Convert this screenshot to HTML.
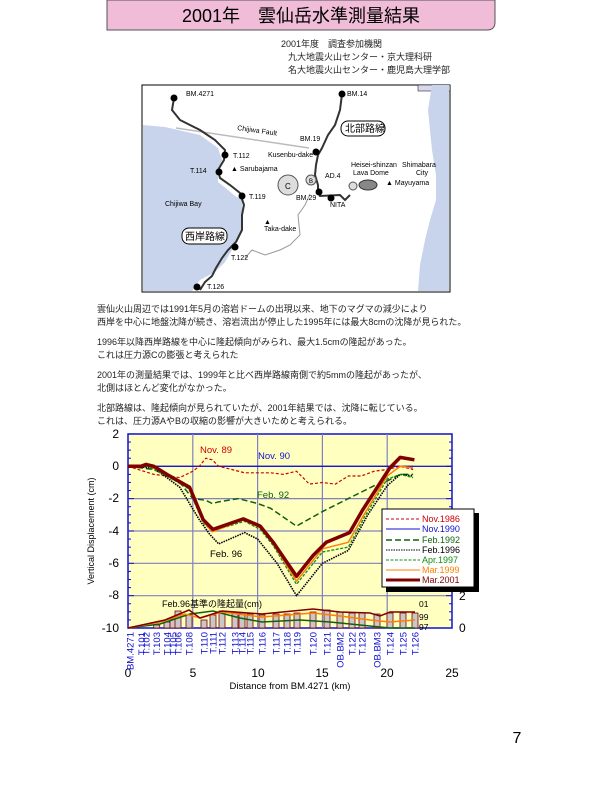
<!DOCTYPE html>
<html><head><meta charset="utf-8"><style>
body{margin:0;background:#fff;width:612px;height:792px;overflow:hidden}
svg{display:block}
text{font-family:"Liberation Sans","Noto Sans CJK JP",sans-serif}
.jp{font-size:9px;fill:#222}
.st{font-size:9.5px;fill:#1010d0}
.ax{font-size:12px;fill:#000}
</style></head><body>
<svg id="s" width="612" height="792" viewBox="0 0 612 792" xmlns="http://www.w3.org/2000/svg">
<path d="M107,0 H495 V22 Q495,30 487,30 H107 Z" fill="#f0bcd8" stroke="#555" stroke-width="1"/>
<text x="301" y="22" font-size="18" text-anchor="middle" fill="#000">2001年　雲仙岳水準測量結果</text>
<text x="281" y="47" class="jp">2001年度　調査参加機関</text>
<text x="288" y="60" class="jp">九大地震火山センター・京大理科研</text>
<text x="288" y="73" class="jp">名大地震火山センター・鹿児島大理学部</text>
<rect x="142" y="85" width="308" height="207" fill="#fff" stroke="#000"/>
<rect x="418" y="85" width="32" height="6" fill="#d8d8f0" stroke="#000" stroke-width="0.5"/>
<path d="M143,125 L165,127 L200,135 L218,148 L222,160 L218,175 L218,182 L228,190 L235,196 L242,200 L243,225 L238,240 L232,250 L225,262 L215,272 L200,280 L192,291 L143,291 Z" fill="#c8d4ec"/>
<path d="M432,85 L428,110 L430,130 L432,150 L436,175 L436,200 L430,220 L425,240 L420,265 L418,291 L449,291 L449,85 Z" fill="#c8d4ec"/>
<line x1="176" y1="128" x2="309" y2="148" stroke="#bbb" stroke-width="1.5"/>
<path d="M174,98 L172,110 L180,120 L200,130 L215,140 L225,150 L224,160 L218,170 L220,178 L230,185 L240,193 L244,205 L242,215 L242,230 L236,242 L228,250 L222,258 L216,268 L212,276 L205,282 L200,290" fill="none" stroke="#333" stroke-width="2"/>
<path d="M342,94 L340,110 L335,125 L328,135 L322,148 L318,155 L316,165 L315,175 L318,185 L318,192 L320,196 L340,195 L345,200 L350,195" fill="none" stroke="#333" stroke-width="2"/>
<path d="M310,194 L305,205 L298,215 L300,235 L290,245 L280,250 L265,255 L252,250 L245,258" fill="none" stroke="#999" stroke-width="1"/>
<g fill="#000">
<circle cx="174" cy="98" r="3.5"/><circle cx="342" cy="94" r="3.5"/><circle cx="225" cy="155" r="3.5"/><circle cx="219" cy="172" r="3.5"/><circle cx="242" cy="196" r="3.5"/><circle cx="235" cy="247" r="3.5"/><circle cx="197" cy="287" r="3.5"/><circle cx="316" cy="152" r="3.5"/><circle cx="319" cy="192" r="3.5"/><circle cx="331" cy="198" r="3.5"/>
</g>
<circle cx="288" cy="185" r="10" fill="#ddd" stroke="#555"/><text x="285" y="189" font-size="8">C</text>
<circle cx="311" cy="180" r="5" fill="#ddd" stroke="#555"/><text x="309" y="183" font-size="6">B</text>
<circle cx="353" cy="186" r="4" fill="#ddd" stroke="#555"/>
<ellipse cx="368" cy="185" rx="9" ry="5" fill="#888" stroke="#333"/>
<g font-size="7" fill="#000">
<text x="186" y="96">BM.4271</text><text x="347" y="96">BM.14</text><text x="237" y="130" transform="rotate(8 237 130)">Chijiwa Fault</text>
<text x="300" y="141">BM.19</text><text x="268" y="157">Kusenbu-dake</text><text x="233" y="158">T.112</text><text x="190" y="173">T.114</text>
<text x="231" y="171">▲ Sarubajama</text><text x="249" y="199">T.119</text><text x="165" y="206">Chijiwa Bay</text>
<text x="296" y="200">BM.29</text><text x="325" y="178">AD.4</text><text x="330" y="207">NITA</text><text x="351" y="167">Heisei-shinzan</text><text x="353" y="175">Lava Dome</text>
<text x="402" y="167">Shimabara</text><text x="416" y="175">City</text><text x="386" y="185">▲ Mayuyama</text>
<text x="264" y="224">▲</text><text x="264" y="231">Taka-dake</text><text x="231" y="260">T.122</text><text x="207" y="289">T.126</text>
</g>
<rect x="341" y="121" width="44" height="15" rx="7" fill="#fff" stroke="#000"/><text x="345" y="132" font-size="10">北部路線</text>
<rect x="182" y="228" width="45" height="16" rx="7" fill="#fff" stroke="#000"/><text x="185" y="240" font-size="10">西岸路線</text>
<text x="97" y="312" class="jp">雲仙火山周辺では1991年5月の溶岩ドームの出現以来、地下のマグマの減少により</text>
<text x="97" y="325" class="jp">西岸を中心に地盤沈降が続き、溶岩流出が停止した1995年には最大8cmの沈降が見られた。</text>
<text x="97" y="345" class="jp">1996年以降西岸路線を中心に隆起傾向がみられ、最大1.5cmの隆起があった。</text>
<text x="97" y="358" class="jp">これは圧力源Cの膨張と考えられた</text>
<text x="97" y="378" class="jp">2001年の測量結果では、1999年と比べ西岸路線南側で約5mmの隆起があったが、</text>
<text x="97" y="391" class="jp">北側はほとんど変化がなかった。</text>
<text x="97" y="411" class="jp">北部路線は、隆起傾向が見られていたが、2001年結果では、沈降に転じている。</text>
<text x="97" y="424" class="jp">これは、圧力源AやBの収縮の影響が大きいためと考えられる。</text>
<rect x="128" y="434" width="324" height="194" fill="#ffffc0" stroke="#1010d0" stroke-width="1.5"/>
<g stroke="#8080c0" stroke-width="1.2">
<line x1="128" y1="498.6" x2="452" y2="498.6"/><line x1="128" y1="531" x2="452" y2="531"/><line x1="128" y1="563.3" x2="452" y2="563.3"/><line x1="128" y1="595.7" x2="452" y2="595.7"/><line x1="128" y1="466.3" x2="452" y2="466.3"/>
<line x1="192.8" y1="434" x2="192.8" y2="628"/><line x1="257.6" y1="434" x2="257.6" y2="628"/><line x1="322.4" y1="434" x2="322.4" y2="628"/><line x1="387.2" y1="434" x2="387.2" y2="628"/>
</g>
<line x1="128" y1="466.3" x2="452" y2="466.3" stroke="#1010d0" stroke-width="1.2"/>
<g id="ticks" stroke="#1010d0" stroke-width="1"></g>
<g id="bars"></g>
<g id="series"></g>
<g class="ax" text-anchor="end">
<text x="119" y="438">2</text><text x="119" y="470">0</text><text x="119" y="502">-2</text><text x="119" y="535">-4</text><text x="119" y="567">-6</text><text x="119" y="599">-8</text><text x="119" y="632">-10</text>
</g>
<g class="ax"><text x="459" y="600">2</text><text x="459" y="632">0</text></g>
<text x="94" y="531" font-size="9" text-anchor="middle" transform="rotate(-90 94 531)">Vertical Displacement (cm)</text>
<g class="ax" text-anchor="middle">
<text x="128" y="677">0</text><text x="193" y="677">5</text><text x="258" y="677">10</text><text x="322" y="677">15</text><text x="387" y="677">20</text><text x="452" y="677">25</text>
</g>
<text x="290" y="689" font-size="9.5" text-anchor="middle">Distance from BM.4271 (km)</text>
<g id="stl" class="st" text-anchor="end"></g>
<text x="200" y="453" font-size="9.5" fill="#d00000">Nov. 89</text>
<text x="258" y="459" font-size="9.5" fill="#1010d0">Nov. 90</text>
<text x="257" y="498" font-size="9.5" fill="#106010">Feb. 92</text>
<text x="210" y="557" font-size="9.5" fill="#000">Feb. 96</text>
<text x="162" y="607" font-size="9" fill="#000">Feb.96基準の隆起量(cm)</text>
<g font-size="8.5" fill="#000"><text x="419" y="607">01</text><text x="419" y="620">99</text><text x="419" y="630">97</text></g>
<rect x="386" y="513" width="93" height="79" fill="#000"/>
<rect x="382" y="509" width="92" height="78" fill="#fff" stroke="#000"/>
<g font-size="9">
<line x1="386" y1="519" x2="420" y2="519" stroke="#d00000" stroke-dasharray="3,2"/><text x="422" y="522" fill="#d00000">Nov.1986</text>
<line x1="386" y1="529" x2="420" y2="529" stroke="#1010d0"/><text x="422" y="532" fill="#1010d0">Nov.1990</text>
<line x1="386" y1="540" x2="420" y2="540" stroke="#106010" stroke-width="1.5" stroke-dasharray="6,3"/><text x="422" y="543" fill="#106010">Feb.1992</text>
<line x1="386" y1="550" x2="420" y2="550" stroke="#000" stroke-dasharray="1.5,1"/><text x="422" y="553" fill="#000">Feb.1996</text>
<line x1="386" y1="560" x2="420" y2="560" stroke="#109010" stroke-dasharray="3,1.5"/><text x="422" y="563" fill="#109010">Apr.1997</text>
<line x1="386" y1="570" x2="420" y2="570" stroke="#ff8000"/><text x="422" y="573" fill="#ff8000">Mar.1999</text>
<line x1="386" y1="580" x2="420" y2="580" stroke="#800000" stroke-width="3"/><text x="422" y="583" fill="#800000">Mar.2001</text>
</g>
<text x="517" y="743" font-size="16" text-anchor="middle">7</text>
</svg>
<script>
var NS="http://www.w3.org/2000/svg";
function X(k){return 128+k*12.96}function Y(v){return 466.3-v*16.17}
function pl(id,d,col,w,dash){var p=document.createElementNS(NS,"polyline");p.setAttribute("points",d.map(function(a){return X(a[0]).toFixed(1)+","+Y(a[1]).toFixed(1)}).join(" "));p.setAttribute("fill","none");p.setAttribute("stroke",col);p.setAttribute("stroke-width",w);if(dash)p.setAttribute("stroke-dasharray",dash);p.setAttribute("stroke-linejoin","round");document.getElementById(id).appendChild(p)}
pl("series",[[0,0],[22,0]],"#1010d0",1);
pl("series",[[0,0],[2,-0.5],[4,-0.7],[5,-0.3],[5.5,0],[6,0.5],[6.5,0.4],[7,0],[8,-0.2],[9,-0.4],[10,-0.4],[11,-0.4],[12,-0.5],[13,-0.3],[14,-1.1],[15,-1],[16,-1.1],[17,-0.6],[18,-0.6],[19,-0.3],[20,-0.2],[21,0],[22,-0.2]],"#d00000",1.2,"3,2");
pl("series",[[0,0],[2,-0.2],[4,-1],[5,-2],[6,-2.1],[6.5,-2.3],[7,-2.2],[8.5,-2],[10,-2.3],[11,-2.6],[13,-3.7],[15,-2.8],[17,-2],[19,-1.2],[20,-0.9],[21,-0.5],[22,-0.5]],"#106010",1.5,"6,3");
pl("series",[[0,0],[2,-0.1],[4,-1.3],[4.6,-2.1],[5.5,-3.3],[6.3,-4.2],[7,-4.8],[9,-4.1],[10,-4.5],[11.5,-6],[13,-8],[15,-6],[17,-5.2],[18.5,-3],[20,-1.2],[21,-0.5],[22,-0.6]],"#000",1.6,"1.5,1");
pl("series",[[0,0],[1.5,0],[3,-0.6],[4.7,-1.4],[5.8,-3.5],[6.5,-4],[9,-3.4],[10.2,-3.9],[11.2,-4.9],[13,-7.3],[15,-5.3],[17,-5],[18.2,-3.2],[20,-0.8],[21,-0.5],[22,-0.7]],"#109010",1.3,"3,1.5");
pl("series",[[0,0],[1.5,0.1],[3,-0.5],[4.7,-1.3],[5.8,-3.4],[6.5,-4.05],[8.9,-3.3],[10.2,-3.8],[11.2,-4.8],[13,-7.1],[15,-5.1],[17,-4.7],[18.2,-3],[20,-0.6],[21,0],[22,-0.1]],"#ff8000",1.5);
pl("series",[[0,0],[1,0],[1.4,0.12],[2,0],[3,-0.5],[4.75,-1.3],[5.8,-3.3],[6.55,-3.9],[8.9,-3.25],[10.2,-3.7],[11.2,-4.7],[13,-6.8],[14.3,-5.5],[15.3,-4.7],[17.1,-4.1],[18.1,-2.7],[20.2,-0.1],[21,0.55],[22.1,0.4]],"#800000",3.5);
var st=[["BM.4271",130],["T.101",141.7],["T.102",146],["T.103",156.7],["T.104",167],["T.105",173],["T.106",178],["T.108",189],["T.110",204],["T.111",213],["T.112",222],["T.113",235],["T.114",242],["T.115",250],["T.116",262],["T.117",276],["T.118",287],["T.119",297],["T.120",313],["T.121",327],["OB.BM2",340],["T.122",352],["T.123",362],["OB.BM3",377],["T.124",390],["T.125",403],["T.126",415]];
var H=[0,0,0,3,6,9,17,13,8,13,17,15,15,14,13,14,14,15,16,18,16,15,15,14,15,15,15];
var B=document.getElementById("bars");
st.forEach(function(s,i){var h=H[i];if(!h)return;var r=document.createElementNS(NS,"rect");r.setAttribute("x",s[1]-3);r.setAttribute("y",628-h);r.setAttribute("width",6);r.setAttribute("height",h);r.setAttribute("fill","#c8c8c8");r.setAttribute("stroke","#800000");r.setAttribute("stroke-width","0.8");B.appendChild(r)});
function bl(pts,c,w){var p=document.createElementNS(NS,"polyline");p.setAttribute("points",pts.map(function(a){return a.join(",")}).join(" "));p.setAttribute("fill","none");p.setAttribute("stroke",c);p.setAttribute("stroke-width",w);B.appendChild(p)}
bl([[128,628],[160,624],[190,614],[213,611],[240,618],[262,622],[300,620],[330,622],[360,625],[390,628],[415,628]],"#106010",1.5);
bl([[128,628],[160,622],[185,614],[200,618],[222,612],[262,617],[313,613],[340,616],[370,620],[390,622],[415,620]],"#ff8000",1.5);
bl([[128,628],[165,620],[189,610],[200,618],[222,611],[262,614],[313,609],[340,612],[370,613],[380,616],[390,612],[415,612]],"#800000",1.5);
var L=document.getElementById("stl");
st.forEach(function(s){var t=document.createElementNS(NS,"text");t.setAttribute("transform","translate("+(s[1]+3.5)+",632) rotate(-90)");t.textContent=s[0];L.appendChild(t)});
var T=document.getElementById("ticks");
for(var v=2;v>=-10;v-=0.5){var l=document.createElementNS(NS,"line");l.setAttribute("x1",128);l.setAttribute("x2",v%2==0?134:131);l.setAttribute("y1",Y(v));l.setAttribute("y2",Y(v));T.appendChild(l);var r=l.cloneNode();r.setAttribute("x1",452);r.setAttribute("x2",v%2==0?446:449);T.appendChild(r)}
</script>
</body></html>
